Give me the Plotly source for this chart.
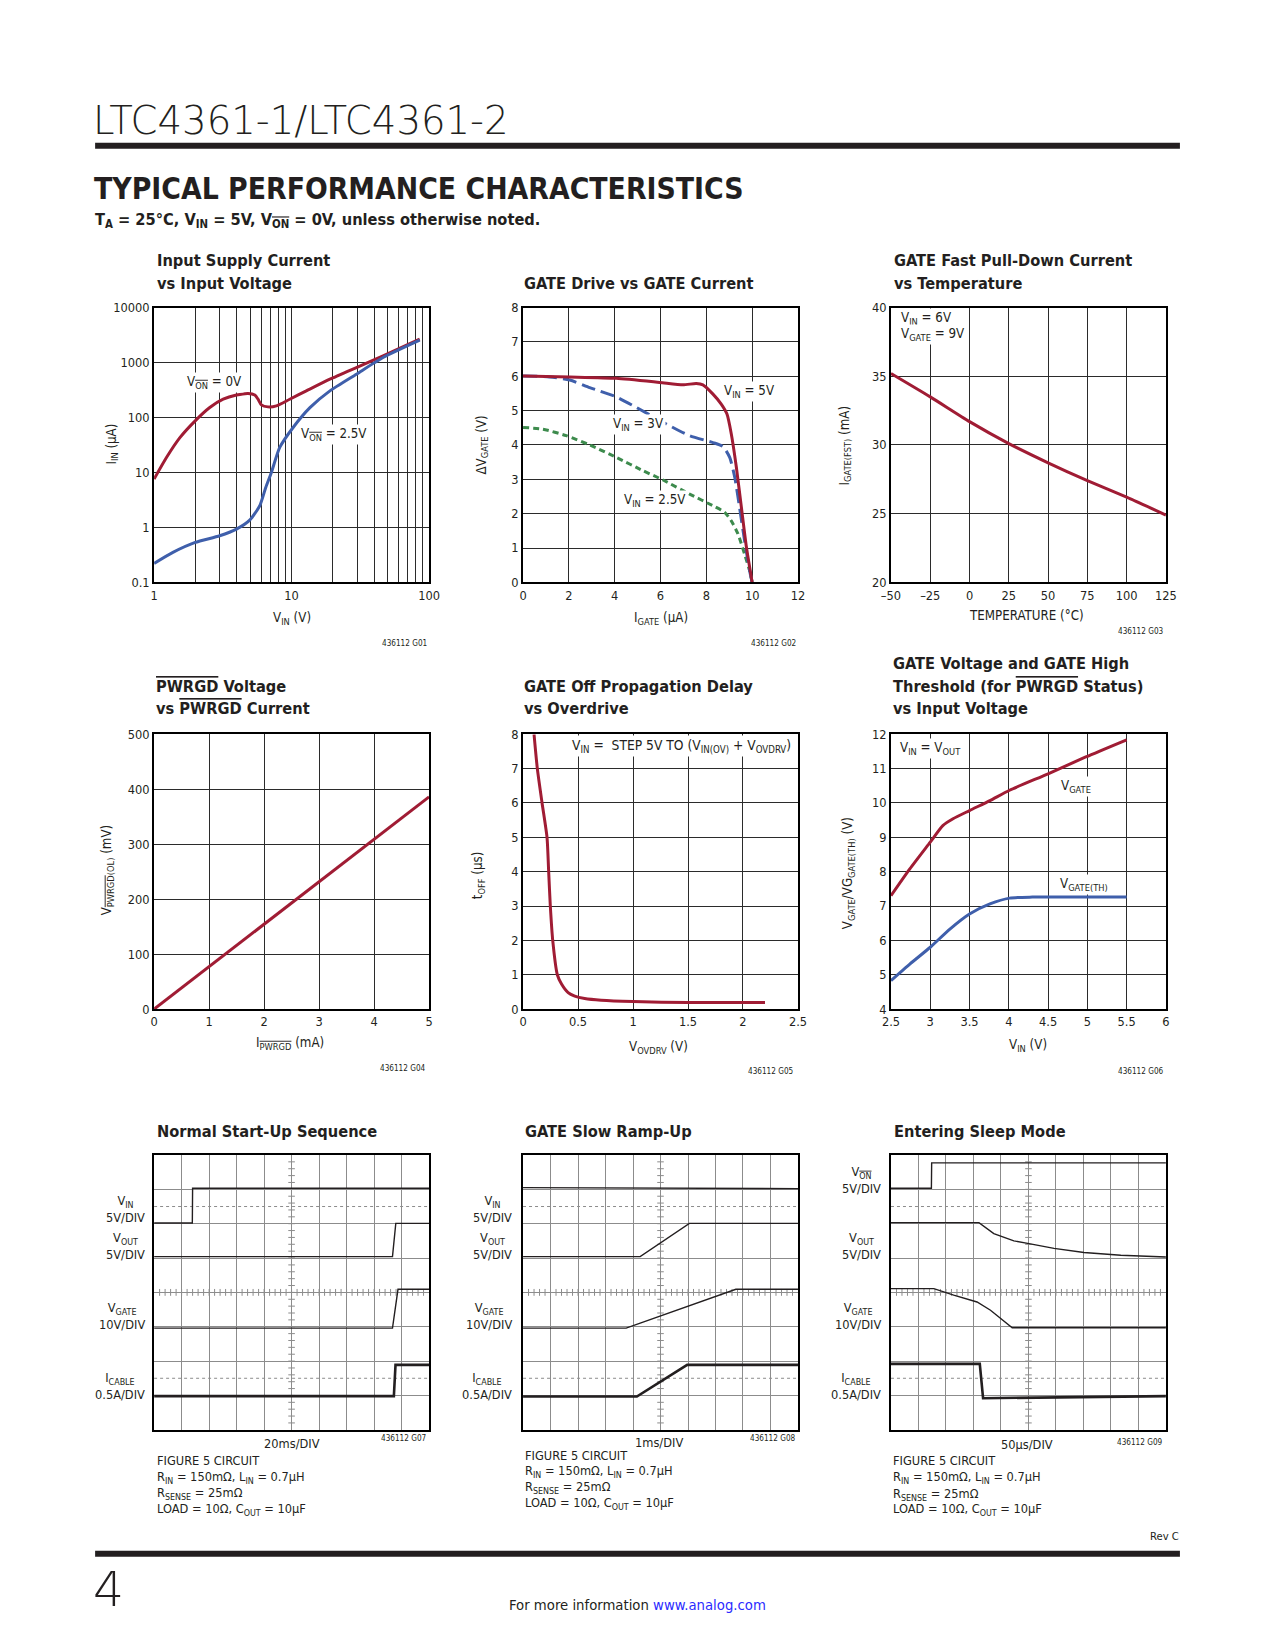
import plotly.graph_objects as go

# page geometry: the browser body keeps its 8px margin, so the figure is
# sized to fill the 1275x1650 window exactly with that margin.
PAGE_W, PAGE_H = 1275, 1650
OFF = 8
W, H = PAGE_W - 2 * OFF, PAGE_H - 2 * OFF
# observed capture mapping (page px -> picture px), compensated below
AX, BX = 0.9835, 10.0
AY, BY = 0.9915, 7.3
SC = 1.0 / AX

NARROW = "DejaVu Sans Condensed, Liberation Sans Narrow, Arial Narrow, sans-serif"
WIDE = "DejaVu Sans, Liberation Sans, sans-serif"
INK = "#231f20"
RED = "#a01c34"
BLUE = "#3f5fab"
GREEN = "#3d8b4d"
GRID = "#2b2b2b"
SGRID = "#8c8c8c"

# ---------------- data ----------------
# G01 Input supply current vs input voltage (log-log)
g01_vin_a = [1, 1.23, 1.54, 1.99, 2.54, 3.18, 3.97, 4.83, 5.40, 5.70, 6.03, 6.74, 7.76, 9.70, 12.8, 19.0, 29.6, 46.3, 85.5]
g01_iin_von0 = [7.6, 18.7, 43, 87, 152, 215, 256, 274, 256, 215, 170, 156, 163, 215, 305, 498, 811, 1321, 2654]
g01_vin_b = [1, 1.37, 1.99, 3.0, 3.97, 4.96, 5.87, 6.49, 7.13, 8.2, 10.26, 13.6, 19.0, 29.6, 46.3, 85.5]
g01_iin_von25 = [0.221, 0.351, 0.533, 0.705, 0.933, 1.36, 2.48, 5.34, 10, 28.5, 65.8, 151, 305, 613, 1232, 2547]
g01_xticks = [1, 2, 3, 4, 5, 6, 7, 8, 9, 10, 20, 30, 40, 50, 60, 70, 80, 90, 100]
g01_yticks = [0.1, 1, 10, 100, 1000, 10000]

# G02 GATE drive vs GATE current
g02_i5 = [0, 2.04, 4.07, 5.96, 6.98, 7.56, 7.85, 8.29, 8.65, 8.9, 9.09, 9.31, 9.53, 9.75, 10.0]
g02_v5 = [6.01, 5.98, 5.94, 5.82, 5.75, 5.79, 5.75, 5.48, 5.19, 4.9, 4.32, 3.35, 2.18, 1.02, 0]
g02_i3 = [0, 1.16, 2.04, 2.91, 4.07, 4.95, 6.11, 7.27, 8.29, 8.73, 9.02, 9.24, 9.45, 9.67, 9.89, 10.0]
g02_v3 = [6.01, 5.98, 5.89, 5.67, 5.40, 5.09, 4.66, 4.27, 4.07, 3.95, 3.64, 3.06, 2.18, 1.21, 0.34, 0]
g02_i25 = [0, 0.87, 1.89, 2.91, 4.07, 5.24, 6.11, 7.27, 8.29, 8.8, 9.09, 9.38, 9.67, 9.89, 10.0]
g02_v25 = [4.51, 4.46, 4.27, 4.0, 3.64, 3.25, 2.98, 2.57, 2.23, 2.04, 1.79, 1.41, 0.82, 0.34, 0]

# G03 GATE fast pull-down current vs temperature
g03_temp = [-50, -25, 0, 25, 50, 75, 100, 125]
g03_igate = [35.2, 33.5, 31.7, 30.1, 28.7, 27.4, 26.2, 24.9]
g03_xtext = ["\u201350", "\u201325", "0", "25", "50", "75", "100", "125"]

# G04 PWRGD voltage vs PWRGD current
g04_i = [0, 1, 2, 3, 4, 5]
g04_v = [0, 77, 154, 231, 308, 386]

# G05 GATE off propagation delay vs overdrive
g05_vov = [0.10, 0.13, 0.173, 0.218, 0.233, 0.248, 0.27, 0.312, 0.35, 0.41, 0.47, 0.56, 0.71, 1.0, 1.5, 2.2]
g05_toff = [8.0, 7.0, 6.0, 5.0, 4.0, 3.0, 2.0, 1.0, 0.73, 0.48, 0.38, 0.31, 0.26, 0.22, 0.19, 0.19]

# G06 GATE voltage and GATE high threshold vs input voltage
g06_vin = [2.5, 2.74, 3.0, 3.16, 3.29, 3.5, 3.76, 4.01, 4.5, 4.98, 5.5]
g06_vgate = [7.30, 8.08, 8.86, 9.34, 9.54, 9.78, 10.07, 10.37, 10.85, 11.34, 11.84]
g06_vin_th = [2.5, 2.74, 3.0, 3.25, 3.5, 3.76, 4.01, 4.3, 5.5]
g06_vth = [4.83, 5.31, 5.80, 6.33, 6.77, 7.06, 7.23, 7.26, 7.26]

# Scope traces (x in divisions 0..10, y in divisions 0..8)
g07_vin_t = [0, 1.39, 1.40, 10]
g07_vin = [6.02, 6.02, 7.03, 7.03]
g07_vout_t = [0, 8.67, 8.79, 10]
g07_vout = [5.04, 5.04, 6.01, 6.01]
g07_vgate_t = [0, 8.67, 8.87, 10]
g07_vgate = [2.96, 2.96, 4.09, 4.09]
g07_icable_t = [0, 8.72, 8.78, 10]
g07_icable = [0.98, 0.98, 1.89, 1.89]

g08_vin_t = [0, 4.9, 10]
g08_vin = [7.05, 7.03, 7.02]
g08_vout_t = [0, 4.26, 6.05, 10]
g08_vout = [5.04, 5.04, 6.01, 6.01]
g08_vgate_t = [0, 3.75, 7.74, 10]
g08_vgate = [2.96, 2.96, 4.09, 4.09]
g08_icable_t = [0, 4.14, 5.97, 10]
g08_icable = [0.97, 0.97, 1.89, 1.89]

g09_von_t = [0, 1.47, 1.48, 10]
g09_von = [7.03, 7.03, 7.77, 7.77]
g09_vout_t = [0, 3.2, 3.74, 4.47, 5.02, 5.93, 7.02, 8.36, 10]
g09_vout = [6.03, 6.03, 5.71, 5.50, 5.42, 5.28, 5.16, 5.08, 5.03]
g09_vgate_t = [0, 1.56, 2.28, 3.13, 3.62, 4.05, 4.41, 10]
g09_vgate = [4.11, 4.11, 3.92, 3.72, 3.48, 3.19, 2.97, 2.97]
g09_icable_t = [0, 3.23, 3.35, 10]
g09_icable = [1.92, 1.92, 0.92, 0.98]

# ---------------- layout helpers ----------------
COL_L = [154, 523, 891]
ROW_T = [307, 734, 1155]
SZ = 275


def fx(x):
    return ((x - BX) / AX - OFF) / W


def fy(y):
    return 1 - ((y - BY) / AY - OFF) / H


def OL(s):
    return "<span style='text-decoration:overline'>" + s + "</span>"


def dom(i):
    c = (i - 1) % 3
    r = (i - 1) // 3
    x0 = COL_L[c]
    y0 = ROW_T[r]
    return [fx(x0), fx(x0 + SZ)], [fy(y0 + SZ), fy(y0)]


def A(text, x, y, size=13, xa="left", ya="middle", bold=False, family=NARROW,
      color=INK, angle=0, bg=None, weight=None):
    if bold:
        text = "<b>" + text + "</b>"
    font = dict(family=family, size=round(size * SC, 2), color=color)
    if weight is not None:
        font["weight"] = weight
    d = dict(text=text, x=fx(x), y=fy(y), xref="paper", yref="paper",
             xanchor=xa, yanchor=ya, showarrow=False, font=font,
             textangle=angle, borderpad=1 if bg else 0)
    if bg:
        d["bgcolor"] = bg
    return d


fig = go.Figure()


def add(i, x, y, color, width=3, dash=None, smooth=False):
    ax = "" if i == 1 else str(i)
    line = dict(color=color, width=width, dash=dash)
    if smooth:
        line.update(shape="spline", smoothing=0.6)
    fig.add_trace(go.Scatter(x=x, y=y, xaxis="x" + ax, yaxis="y" + ax, mode="lines",
                             line=line, hoverinfo="skip", showlegend=False))


add(1, g01_vin_a, g01_iin_von0, RED, smooth=True)
add(1, g01_vin_b, g01_iin_von25, BLUE, smooth=True)
add(2, g02_i25, g02_v25, GREEN, dash="6px,4px", smooth=True)
add(2, g02_i3, g02_v3, BLUE, dash="14px,6px", smooth=True)
add(2, g02_i5, g02_v5, RED, smooth=True)
add(3, g03_temp, g03_igate, RED, smooth=True)
add(4, g04_i, g04_v, RED)
add(5, g05_vov, g05_toff, RED, smooth=True)
add(6, g06_vin, g06_vgate, RED, smooth=True)
add(6, g06_vin_th, g06_vth, BLUE, smooth=True)

SW = 1.4
NW = 2.6
for (t, v, w) in [(g07_vin_t, g07_vin, SW), (g07_vout_t, g07_vout, SW),
                  (g07_vgate_t, g07_vgate, SW), (g07_icable_t, g07_icable, NW)]:
    add(7, t, v, INK, width=w)
for (t, v, w) in [(g08_vin_t, g08_vin, SW), (g08_vout_t, g08_vout, SW),
                  (g08_vgate_t, g08_vgate, SW), (g08_icable_t, g08_icable, NW)]:
    add(8, t, v, INK, width=w)
for (t, v, w) in [(g09_von_t, g09_von, SW), (g09_vout_t, g09_vout, SW),
                  (g09_vgate_t, g09_vgate, SW), (g09_icable_t, g09_icable, NW)]:
    add(9, t, v, INK, width=w)

tickfont = dict(family=NARROW, size=round(12.5 * SC, 2), color=INK)


def axis(rng, grid=GRID, **kw):
    base = dict(range=rng, showline=True, mirror=True, linecolor="black", linewidth=2,
                showgrid=True, gridcolor=grid, gridwidth=1, zeroline=False, ticks="",
                tickfont=tickfont, fixedrange=True)
    base.update(kw)
    return base


layout_axes = {}


def set_axes(i, xa, ya):
    dx, dy = dom(i)
    s = "" if i == 1 else str(i)
    xa["domain"] = dx
    ya["domain"] = dy
    xa["anchor"] = "y" + s
    ya["anchor"] = "x" + s
    layout_axes["xaxis" + s] = xa
    layout_axes["yaxis" + s] = ya


set_axes(1,
         axis([0, 2], type="log", tickmode="array", tickvals=g01_xticks,
              ticktext=[str(v) if v in (1, 10, 100) else "" for v in g01_xticks]),
         axis([-1, 4], type="log", tickmode="array", tickvals=g01_yticks,
              ticktext=["0.1", "1", "10", "100", "1000", "10000"]))
set_axes(2, axis([0, 12], dtick=2), axis([0, 8], dtick=1))
set_axes(3, axis([-50, 125], tickmode="array", tickvals=g03_temp, ticktext=g03_xtext),
         axis([20, 40], dtick=5))
set_axes(4, axis([0, 5], dtick=1), axis([0, 500], dtick=100))
set_axes(5, axis([0, 2.5], dtick=0.5), axis([0, 8], dtick=1))
set_axes(6, axis([2.5, 6], dtick=0.5), axis([4, 12], dtick=1))
for i in (7, 8, 9):
    set_axes(i, axis([0, 10], grid=SGRID, dtick=1, showticklabels=False),
             axis([0, 8], grid=SGRID, dtick=1, showticklabels=False))

shapes = []
# header / footer rules
shapes.append(dict(type="rect", xref="paper", yref="paper", x0=fx(95), x1=fx(1180),
                   y0=fy(148), y1=fy(142), fillcolor=INK, line=dict(width=0), layer="above"))
shapes.append(dict(type="rect", xref="paper", yref="paper", x0=fx(95), x1=fx(1180),
                   y0=fy(1557), y1=fy(1551), fillcolor=INK, line=dict(width=0), layer="above"))
# scope graticule extras: dotted lines and centre tick marks
for i in (7, 8, 9):
    s = str(i)
    for yy in (1.5, 6.5):
        shapes.append(dict(type="line", xref="x" + s, yref="y" + s, x0=0, x1=10, y0=yy, y1=yy,
                           line=dict(color=SGRID, width=1, dash="dot"), layer="below"))
    p = ""
    for k in range(1, 50):
        xx = k * 0.2
        p += "M%.2f,%.3f L%.2f,%.3f " % (xx, 3.9, xx, 4.1)
    for k in range(1, 40):
        yy = k * 0.2
        p += "M%.3f,%.2f L%.3f,%.2f " % (4.88, yy, 5.12, yy)
    shapes.append(dict(type="path", xref="x" + s, yref="y" + s, path=p,
                       line=dict(color=SGRID, width=1), layer="below"))

ann = []
# header
ann.append(A("LTC4361-1/LTC4361-2", 92, 120, size=38, family=WIDE, weight=200))
ann.append(A("TYPICAL PERFORMANCE CHARACTERISTICS", 93, 188, size=29.3, bold=True))
ann.append(A("T<sub>A</sub> = 25°C, V<sub>IN</sub> = 5V, V<sub>" + OL("ON") +
             "</sub> = 0V, unless otherwise noted.", 94, 220, size=16, bold=True))

# chart titles (x, baseline, text)
titles = [
    (155.7, 266.7, "Input Supply Current"), (155.7, 289.3, "vs Input Voltage"),
    (523, 289.3, "GATE Drive vs GATE Current"),
    (892.7, 266.7, "GATE Fast Pull-Down Current"), (892.7, 289.3, "vs Temperature"),
    (155, 692.7, OL("PWRGD") + " Voltage"), (155, 715, "vs " + OL("PWRGD") + " Current"),
    (522.7, 692.7, "GATE Off Propagation Delay"), (522.7, 715, "vs Overdrive"),
    (892, 669.3, "GATE Voltage and GATE High"),
    (892, 692.7, "Threshold (for " + OL("PWRGD") + " Status)"),
    (892, 715, "vs Input Voltage"),
    (155.7, 1138.3, "Normal Start-Up Sequence"), (524, 1138.3, "GATE Slow Ramp-Up"),
    (893, 1138.3, "Entering Sleep Mode"),
]
for (x, b, t) in titles:
    ann.append(A(t, x, b - 6.5, size=16, bold=True))

# axis titles
ann.append(A("I<sub>IN</sub> (µA)", 112, 444, angle=-90, xa="center"))
ann.append(A("V<sub>IN</sub> (V)", 291.5, 618, xa="center"))
ann.append(A("\u0394V<sub>GATE</sub> (V)", 482, 445, angle=-90, xa="center"))
ann.append(A("I<sub>GATE</sub> (µA)", 660.5, 618, xa="center"))
ann.append(A("I<sub>GATE(FST)</sub> (mA)", 845, 445, angle=-90, xa="center"))
ann.append(A("TEMPERATURE (°C)", 1027, 615, xa="center"))
ann.append(A("V<sub>" + OL("PWRGD") + "(OL)</sub> (mV)", 107, 870, angle=-90, xa="center"))
ann.append(A("I<sub>" + OL("PWRGD") + "</sub> (mA)", 290, 1043, xa="center"))
ann.append(A("t<sub>OFF</sub> (µs)", 478, 875, angle=-90, xa="center"))
ann.append(A("V<sub>OVDRV</sub> (V)", 658, 1047, xa="center"))
ann.append(A("V<sub>GATE</sub>/VG<sub>GATE(TH)</sub> (V)", 848, 873, angle=-90, xa="center"))
ann.append(A("V<sub>IN</sub> (V)", 1028, 1045, xa="center"))

# in-plot curve labels
ann.append(A("V<sub>" + OL("ON") + "</sub> = 0V", 185, 382, bg="white"))
ann.append(A("V<sub>" + OL("ON") + "</sub> = 2.5V", 299, 434, bg="white"))
ann.append(A("V<sub>IN</sub> = 5V", 722, 391, bg="white"))
ann.append(A("V<sub>IN</sub> = 3V", 611, 424, bg="white"))
ann.append(A("V<sub>IN</sub> = 2.5V", 622, 500, bg="white"))
ann.append(A("V<sub>IN</sub> = 6V", 899, 318, bg="white"))
ann.append(A("V<sub>GATE</sub> = 9V", 899, 334, bg="white"))
ann.append(A("V<sub>IN</sub> =  STEP 5V TO (V<sub>IN(OV)</sub> + V<sub>OVDRV</sub>)", 570, 746,
             size=13.5, bg="white"))
ann.append(A("V<sub>IN</sub> = V<sub>OUT</sub>", 898, 748, bg="white"))
ann.append(A("V<sub>GATE</sub>", 1059, 786, bg="white"))
ann.append(A("V<sub>GATE(TH)</sub>", 1058, 884, bg="white"))

# figure codes
for (t, x, y) in [("436112 G01", 428, 643), ("436112 G02", 797, 643), ("436112 G03", 1165, 631),
                  ("436112 G04", 427, 1068), ("436112 G05", 795, 1071), ("436112 G06", 1165, 1071),
                  ("436112 G07", 428, 1438), ("436112 G08", 797, 1438), ("436112 G09", 1164, 1442)]:
    ann.append(A(t, x, y, size=8, xa="right"))

# scope channel labels
for (xr, rows) in [(146, [("V<sub>IN</sub>", "5V/DIV", 1209), ("V<sub>OUT</sub>", "5V/DIV", 1246),
                          ("V<sub>GATE</sub>", "10V/DIV", 1316), ("I<sub>CABLE</sub>", "0.5A/DIV", 1386)]),
                   (513, [("V<sub>IN</sub>", "5V/DIV", 1209), ("V<sub>OUT</sub>", "5V/DIV", 1246),
                          ("V<sub>GATE</sub>", "10V/DIV", 1316), ("I<sub>CABLE</sub>", "0.5A/DIV", 1386)]),
                   (882, [("V<sub>" + OL("ON") + "</sub>", "5V/DIV", 1180), ("V<sub>OUT</sub>", "5V/DIV", 1246),
                          ("V<sub>GATE</sub>", "10V/DIV", 1316), ("I<sub>CABLE</sub>", "0.5A/DIV", 1386)])]:
    for (a, b, yc) in rows:
        ann.append(A(a + "<br>" + b, xr, yc, size=12.5, xa="right"))

# scope time bases and circuit notes
notes = ["FIGURE 5 CIRCUIT", "R<sub>IN</sub> = 150mΩ, L<sub>IN</sub> = 0.7µH",
         "R<sub>SENSE</sub> = 25mΩ", "LOAD = 10Ω, C<sub>OUT</sub> = 10µF"]
for (tb, xc, yt, xl, ys) in [("20ms/DIV", 292, 1444, 156, [1461, 1478, 1494, 1510]),
                             ("1ms/DIV", 659, 1443, 524, [1456, 1472, 1488, 1504]),
                             ("50µs/DIV", 1027, 1445, 892, [1461, 1478, 1495, 1510])]:
    ann.append(A(tb, xc, yt, size=12.5, xa="center"))
    for t, y in zip(notes, ys):
        ann.append(A(t, xl, y, size=12.5))

# footer
ann.append(A("Rev C", 1180, 1537, size=11, xa="right"))
ann.append(A("4", 92, 1590, size=48, family=WIDE, weight=200))
ann.append(A("For more information <span style='color:#2b2bff'>www.analog.com</span>", 637, 1605,
             size=14.5, xa="center"))

fig.update_layout(width=W, height=H, margin=dict(l=0, r=0, t=0, b=0),
                  paper_bgcolor="white", plot_bgcolor="white", showlegend=False,
                  shapes=shapes, annotations=ann, **layout_axes)

fig.write_html("out.html", config={"displayModeBar": False, "staticPlot": True})
